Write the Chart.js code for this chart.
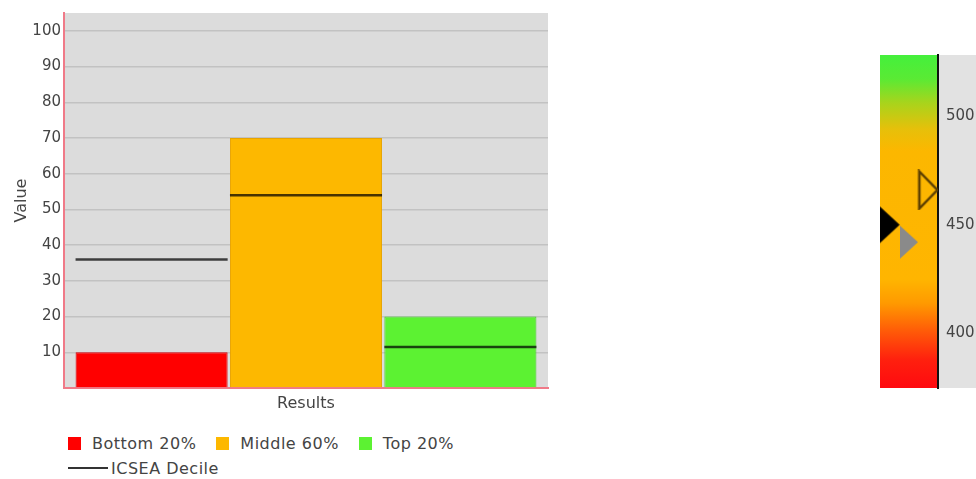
<!DOCTYPE html>
<html lang="en">
<head>
    <meta charset="UTF-8">
    <title>Results</title>
    <script src="https://cdn.jsdelivr.net/npm/chart.js"></script>
    <style>
        html, body { margin: 0; padding: 0; background: #fff; overflow: hidden; }
        body { width: 976px; height: 479px; position: relative; font-family: "DejaVu Sans", sans-serif; }
        #main { position: absolute; left: 0; top: 0; }
        #gauge { position: absolute; left: 840px; top: 0; }
        #legend { position: absolute; left: 68px; top: 433px; width: 420px; display: flex; flex-wrap: wrap;
                  font-size: 16px; letter-spacing: 0.5px; color: #444; }
        .item { display: flex; align-items: center; height: 20px; margin: 0 20px 5px 0; }
        .box { width: 13px; height: 13px; margin-right: 11px; }
        .line { width: 40px; height: 2px; margin-right: 3px; }
    </style>
</head>
<body>
    <canvas id="main" width="560" height="420"></canvas>
    <canvas id="gauge" width="200" height="420"></canvas>
    <div id="legend"></div>

    <script>
        // data
        const categories = ['Results'];
        const seriesNames = ['Bottom 20%', 'Middle 60%', 'Top 20%'];
        const seriesValues = [10, 70, 20];
        const decileName = 'ICSEA Decile';
        const decileValues = [36, 54, 11.5];
        const yTicks = [10, 20, 30, 40, 50, 60, 70, 80, 90, 100];

        const gaugeMin = 375;
        const gaugeMax = 528;
        const gaugeTicks = [400, 450, 500];
        const gaugeMarkers = [450, 442, 466];
        const gaugeStops = [528, 517, 506, 494, 484, 425, 414, 401, 388, 375];

        // styles
        const barColors = ['#ff0000', '#fdb800', '#5cf232'];
        const barBorders = ['#d8000c', '#e8a400', '#3fcf25'];
        const gaugeColors = ['#44f03c', '#5aea34', '#a8d41c', '#e6c00a', '#fcb700',
                             '#ffb500', '#ff9a00', '#ff5a08', '#ff200e', '#ff0a10'];
        const axisPink = '#f07a88';

        Chart.defaults.font.family = '"DejaVu Sans", sans-serif';

        const plotBg = {
            id: 'plotBg',
            beforeDraw(chart, args, opts) {
                const a = chart.chartArea;
                const ctx = chart.ctx;
                ctx.save();
                if (opts.gauge) {
                    // grey panel behind the tick labels
                    const y = chart.scales.y;
                    ctx.fillStyle = opts.color;
                    ctx.fillRect(y.left, a.top, chart.width - y.left, a.bottom - a.top);
                    // colour key, stops placed by the value scale
                    const top = y.getPixelForValue(gaugeMax);
                    const bottom = y.getPixelForValue(gaugeMin);
                    const g = ctx.createLinearGradient(0, top, 0, bottom);
                    gaugeStops.forEach((v, i) => {
                        const f = (y.getPixelForValue(v) - top) / (bottom - top);
                        g.addColorStop(Math.min(1, Math.max(0, f)), gaugeColors[i]);
                    });
                    ctx.fillStyle = g;
                    ctx.fillRect(a.left, top, a.right - a.left, bottom - top);
                } else {
                    ctx.fillStyle = opts.color;
                    ctx.fillRect(a.left, a.top, a.right - a.left, a.bottom - a.top);
                }
                ctx.restore();
            }
        };

        // main bar chart
        const datasets = [];
        decileValues.forEach((v, i) => {
            datasets.push({
                label: decileName,
                data: [[v - 0.35, v + 0.35]],
                stack: 's' + i,
                backgroundColor: 'rgba(0,0,0,0.72)',
                borderWidth: 0,
                order: 1
            });
        });
        seriesNames.forEach((name, i) => {
            datasets.push({
                label: name,
                data: [seriesValues[i]],
                stack: 's' + i,
                backgroundColor: barColors[i],
                borderColor: barBorders[i],
                borderWidth: 1,
                order: 2
            });
        });

        const mainChart = new Chart(document.getElementById('main'), {
            type: 'bar',
            data: { labels: categories, datasets: datasets },
            plugins: [plotBg],
            options: {
                responsive: false,
                animation: false,
                layout: { padding: { top: 13, right: 12, left: 0, bottom: 0 } },
                datasets: { bar: { categoryPercentage: 0.957, barPercentage: 0.985 } },
                plugins: {
                    legend: { display: false },
                    tooltip: { enabled: false },
                    plotBg: { color: '#dcdcdc' }
                },
                scales: {
                    x: {
                        grid: { display: false, drawTicks: false },
                        border: { color: axisPink, width: 2 },
                        ticks: { color: '#444', padding: 6, font: { size: 16 } },
                        afterFit: s => { s.height = 32; }
                    },
                    y: {
                        min: 0,
                        max: 105,
                        stacked: false,
                        ticks: {
                            stepSize: 10,
                            includeBounds: false,
                            padding: 3,
                            color: '#444',
                            font: { size: 15 },
                            callback: v => yTicks.includes(v) ? v : ''
                        },
                        grid: {
                            drawTicks: false,
                            lineWidth: 1.5,
                            color: c => (c.tick && yTicks.includes(c.tick.value)) ? '#c2c2c2' : 'rgba(0,0,0,0)'
                        },
                        border: { color: axisPink, width: 2 },
                        title: { display: true, text: 'Value', color: '#444', font: { size: 16 }, padding: { top: 12, bottom: 0 } },
                        afterFit: s => { s.width = 64; }
                    }
                }
            }
        });

        // legend built from the chart's datasets
        const legend = document.getElementById('legend');
        const seen = {};
        mainChart.data.datasets.slice().sort((a, b) => b.order - a.order).forEach(ds => {
            if (seen[ds.label]) return;
            seen[ds.label] = true;
            const item = document.createElement('div');
            item.className = 'item';
            const sw = document.createElement('span');
            if (ds.label === decileName) {
                sw.className = 'line';
                sw.style.background = '#333';
            } else {
                sw.className = 'box';
                sw.style.background = ds.backgroundColor;
            }
            const tx = document.createElement('span');
            tx.textContent = ds.label;
            item.appendChild(sw);
            item.appendChild(tx);
            legend.appendChild(item);
        });

        // gauge
        function triangle(w, h, fill, stroke) {
            const c = document.createElement('canvas');
            c.width = w + 4;
            c.height = h + 4;
            const t = c.getContext('2d');
            t.beginPath();
            t.moveTo(2, 2);
            t.lineTo(w + 2, h / 2 + 2);
            t.lineTo(2, h + 2);
            t.closePath();
            if (fill) { t.fillStyle = fill; t.fill(); }
            if (stroke) { t.lineWidth = 2.5; t.strokeStyle = stroke; t.stroke(); }
            return c;
        }
        const markerImages = [
            triangle(20, 37, '#000000', null),
            triangle(18, 33, '#8a8a8a', null),
            triangle(18, 37, null, '#5c3f00')
        ];

        new Chart(document.getElementById('gauge'), {
            type: 'scatter',
            data: {
                datasets: [{
                    data: gaugeMarkers.map((v, i) => ({ x: i + 0.5, y: v })),
                    pointStyle: markerImages,
                    pointRadius: 10
                }]
            },
            plugins: [plotBg],
            options: {
                responsive: false,
                animation: false,
                layout: { autoPadding: false, padding: { top: 55, right: 0, left: 40, bottom: 32 } },
                plugins: {
                    legend: { display: false },
                    tooltip: { enabled: false },
                    plotBg: { color: '#e2e2e2', gauge: true }
                },
                scales: {
                    x: { type: 'linear', display: false, offset: false, min: 0, max: gaugeMarkers.length },
                    y: {
                        position: 'right',
                        min: gaugeMin,
                        max: gaugeMax,
                        ticks: {
                            stepSize: 50,
                            includeBounds: false,
                            padding: 8,
                            color: '#444',
                            font: { size: 15 },
                            callback: v => gaugeTicks.includes(v) ? v : ''
                        },
                        grid: { display: false, drawTicks: false },
                        border: { color: '#111', width: 2 },
                        afterFit: s => { s.width = 102; }
                    }
                }
            }
        });
    </script>
</body>
</html>
